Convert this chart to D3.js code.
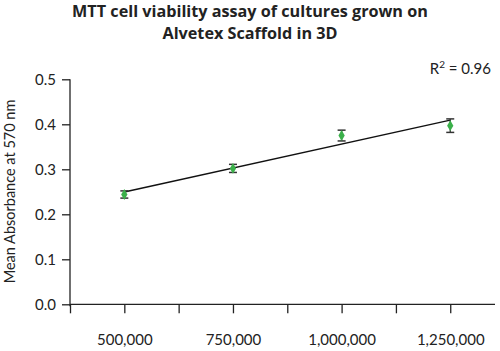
<!DOCTYPE html>
<html>
<head>
<meta charset="utf-8">
<script src="https://cdn.jsdelivr.net/npm/d3@7"></script>
<style>
  body { margin: 0; background: #fff; }
  text { font-family: Lato, "Noto Sans", sans-serif; fill: #222; }
</style>
</head>
<body>
<svg id="chart"></svg>
<script>
// cell seeding densities and mean absorbance
const cellCounts = [500000, 750000, 1000000, 1250000];
const absorbance = [0.244, 0.302, 0.375, 0.397];
const errors = [0.008, 0.009, 0.012, 0.015];
const xTicks = [375000, 500000, 625000, 750000, 875000, 1000000, 1125000, 1250000];
const xLabelled = [500000, 750000, 1000000, 1250000];
const yTicks = [0, 0.1, 0.2, 0.3, 0.4, 0.5];

const width = 500, height = 351;
const svg = d3.select("#chart").attr("width", width).attr("height", height);

let x = d3.scaleLinear().domain([375000, 1353000]).range([70, 495]);
let y = d3.scaleLinear().domain([0, 0.5]).range([304.3, 79.3]);

// title
svg.append("text").attr("x", 250).attr("y", 17).attr("text-anchor", "middle")
   .style("font-weight", "bold").style("font-size", "16.2px").style("font-family", "'Open Sans', sans-serif")
   .text("MTT cell viability assay of cultures grown on");
svg.append("text").attr("x", 250).attr("y", 39).attr("text-anchor", "middle")
   .style("font-weight", "bold").style("font-size", "16.2px").style("font-family", "'Open Sans', sans-serif")
   .text("Alvetex Scaffold in 3D");

// y axis
let yAxis = d3.axisLeft(y).tickValues(yTicks).tickFormat(d3.format(".1f")).tickSize(8).tickPadding(6);
let gy = svg.append("g").attr("transform", "translate(70,0)").call(yAxis);
gy.select(".domain").attr("d", "M0," + y(0.5) + "V" + (y(0) + 2)).attr("stroke", "#222").attr("stroke-width", 1.3);
gy.selectAll(".tick line").attr("stroke", "#222").attr("stroke-width", 1.3);
gy.selectAll(".tick text").style("font-size", "15px").style("font-family", "Lato, sans-serif").attr("fill", "#222");

// x axis
let xAxis = d3.axisBottom(x).tickValues(xTicks)
              .tickFormat((d) => xLabelled.includes(d) ? d3.format(",")(d) : "")
              .tickSize(9).tickPadding(21);
let gx = svg.append("g").attr("transform", "translate(0," + y(0) + ")").call(xAxis);
gx.select(".domain").attr("d", "M" + x(375000) + ",0H" + x(1353000)).attr("stroke", "#222").attr("stroke-width", 1.3);
gx.selectAll(".tick line").attr("stroke", "#222").attr("stroke-width", 1.3);
gx.selectAll(".tick text").style("font-size", "15px").style("font-family", "Lato, sans-serif").attr("fill", "#222");

// y axis title
svg.append("text")
   .attr("transform", "translate(14.5," + 191.5 + ") rotate(-90)")
   .attr("text-anchor", "middle").style("font-size", "14.5px")
   .text("Mean Absorbance at 570 nm");

// linear trendline from least squares
let mx = d3.mean(cellCounts), my = d3.mean(absorbance);
let sxy = d3.sum(cellCounts, (d, i) => (d - mx) * (absorbance[i] - my));
let sxx = d3.sum(cellCounts, (d) => (d - mx) * (d - mx));
let syy = d3.sum(absorbance, (d) => (d - my) * (d - my));
let slope = sxy / sxx, intercept = my - slope * mx;
let r2 = (sxy * sxy) / (sxx * syy);
let xExtent = d3.extent(cellCounts);
svg.append("line")
   .attr("x1", x(xExtent[0])).attr("y1", y(intercept + slope * xExtent[0]))
   .attr("x2", x(xExtent[1])).attr("y2", y(intercept + slope * xExtent[1]))
   .attr("stroke", "#111").attr("stroke-width", 1.5);

// error bars
let bars = svg.selectAll(".err").data(cellCounts).enter().append("g").attr("class", "err");
bars.append("line")
    .attr("x1", (d) => x(d)).attr("x2", (d) => x(d))
    .attr("y1", (d, i) => y(absorbance[i] + errors[i]))
    .attr("y2", (d, i) => y(absorbance[i] - errors[i]))
    .attr("stroke", "#333").attr("stroke-width", 1.3);
[1, -1].forEach((s) => {
  bars.append("line")
      .attr("x1", (d) => x(d) - 4).attr("x2", (d) => x(d) + 4)
      .attr("y1", (d, i) => y(absorbance[i] + s * errors[i]))
      .attr("y2", (d, i) => y(absorbance[i] + s * errors[i]))
      .attr("stroke", "#333").attr("stroke-width", 1.5);
});

// points
svg.selectAll(".pt").data(cellCounts).enter().append("path")
   .attr("class", "pt")
   .attr("d", d3.symbol().type(d3.symbolDiamond).size(34))
   .attr("transform", (d, i) => "translate(" + x(d) + "," + y(absorbance[i]) + ")")
   .attr("fill", "#3bb04a");

// R squared label
let r2Text = svg.append("text").attr("x", 491).attr("y", 74).attr("text-anchor", "end").style("font-size", "15px");
r2Text.append("tspan").text("R");
r2Text.append("tspan").attr("dy", -6).style("font-size", "10px").text("2");
r2Text.append("tspan").attr("dy", 6).text(" = " + d3.format(".2f")(r2));
</script>
</body>
</html>
